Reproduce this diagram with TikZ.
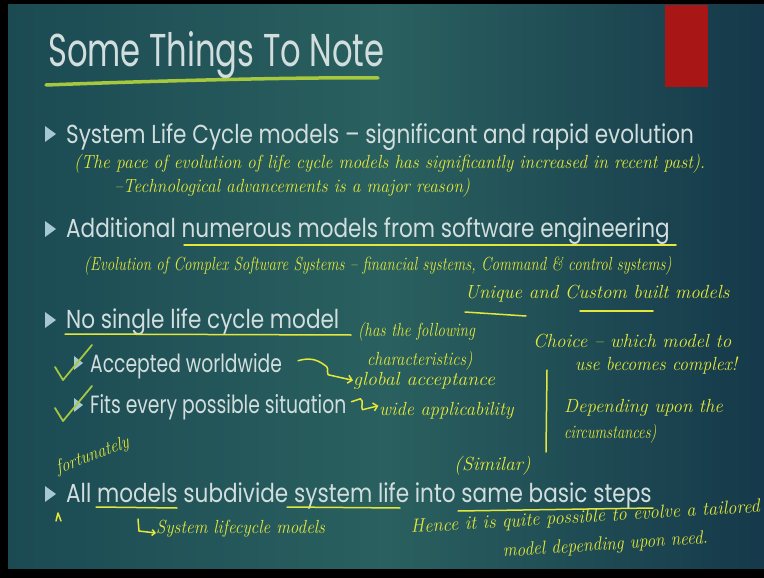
\documentclass[tikz,border=0pt]{standalone}
\usepackage{fontspec}
\newfontfamily\slidefont{Poppins}
\usetikzlibrary{arrows.meta}
\definecolor{bgleft}{HTML}{1B4A53}
\definecolor{bgmid}{HTML}{2A605F}
\definecolor{bgright}{HTML}{15394A}
\definecolor{slidegray}{HTML}{D2DEDE}
\definecolor{bulletblue}{HTML}{A6C8D2}
\definecolor{inkyellow}{HTML}{E4E83A}
\definecolor{inkgreen}{HTML}{A6C83E}
\definecolor{tabred}{HTML}{A81616}
\begin{document}
\begin{tikzpicture}[x=1pt,y=-1pt,
  titletext/.style={font=\slidefont\fontsize{46}{50}\selectfont, text=slidegray, anchor=base west, inner sep=0pt, xscale=0.70, transform shape},
  slidetext/.style={font=\slidefont\fontsize{26}{30}\selectfont, text=slidegray, anchor=base west, inner sep=0pt, xscale=0.83, transform shape},
  subtext/.style={font=\slidefont\fontsize{25}{30}\selectfont, text=slidegray, anchor=base west, inner sep=0pt, xscale=0.75, transform shape},
  ink/.style={font=\itshape\fontsize{19}{22}\selectfont, text=inkyellow, anchor=base west, inner sep=0pt, transform shape},
  inkline/.style={draw=inkyellow, line width=1.5pt, line cap=round, line join=round},
  tick/.style={draw=inkgreen, line width=1.8pt, line cap=round, line join=round},
  bullet/.style={fill=bulletblue}
]
\useasboundingbox (0,0) rectangle (764,578);
% frame and background
\fill[black] (0,0) rectangle (764,578);
\shade[left color=bgleft, right color=bgright, middle color=bgmid, shading angle=90] (8,5) rectangle (764,568);
\fill[tabred] (665,5) rectangle (708,87);

% title
\node[titletext] (title) at (48,67) {Some Things To Note};
\draw[draw=inkgreen, line width=3.5pt, line cap=round] (46,85) .. controls (150,81) and (300,77) .. (378,78);

% bullet markers
\foreach \y in {134, 229, 320, 494} {
  \fill[bullet] (45,\y-8) -- (56,\y) -- (45,\y+8) -- cycle;
}
\fill[bullet] (74,356) -- (83,363) -- (74,370) -- cycle;
\fill[bullet] (74,398) -- (83,405) -- (74,412) -- cycle;

% first bullet
\node[slidetext] (l1) at (66,143) {System Life Cycle models \textendash\ significant and rapid evolution};
\node[ink, xscale=0.92] (n1a) at (74,168) {(The pace of evolution of life cycle models has significantly increased in recent past).};
\node[ink, xscale=0.91] (n1b) at (114,193) {--Technological advancements is a major reason)};

% second bullet
\node[slidetext] (l2) at (66,237) {Additional numerous models from software engineering};
\draw[inkline] (184,245) -- (676,245);
\node[ink, xscale=0.79] (n2a) at (84,270) {(Evolution of Complex Software Systems -- financial systems, Command \& control systems)};
\node[ink, xscale=1.0] (n2b) at (465,298) {Unique and Custom built models};
\draw[inkline] (465,312) -- (526,316);
\draw[inkline] (580,311) -- (653,311);

% third bullet
\node[slidetext] (l3) at (66,328) {No single life cycle model};
\draw[inkline] (65,334) -- (351,335);
\node[ink, xscale=0.81] (n3a) at (358,336) {(has the following};
\node[ink, xscale=0.85] (n3b) at (367,365) {characteristics)};
\node[ink, xscale=1.0] (n3c) at (533,347) {Choice -- which model to};
\node[ink, xscale=0.94] (n3d) at (575,370) {use becomes complex!};

\node[subtext] (s1) at (90,372) {Accepted worldwide};
\node[subtext] (s2) at (90,413) {Fits every possible situation};
\draw[tick] (55,367) -- (63,380) -- (92,345);
\draw[tick] (55,408) -- (63,421) -- (92,386);

\node[ink, xscale=1.04] (g1) at (353,385) {global acceptance};
\node[ink, xscale=0.97] (g2) at (379,415) {wide applicability};
\draw[inkline, -{Straight Barb[length=4pt]}] (s1.east) ++(16,-5) .. controls +(10,-3) and +(-8,-6) .. ++(26,4) .. controls +(6,4) and +(-2,-6) .. ++(4,10) -- (g1.west);
\draw[inkline, -{Straight Barb[length=4pt]}] (s2.east) ++(5,-5) -- ++(9,-3) .. controls +(4,3) and +(-2,-4) .. ++(2,11) -- ++(16,-4);

\draw[inkline] (547,370) -- (546,452);
\node[ink, xscale=0.99] (n3e) at (564,412) {Depending upon the};
\node[ink, xscale=0.77] (n3f) at (564,438) {circumstances)};

% fourth bullet
\node[ink, xscale=0.86, rotate=18] (n4a) at (58,474) {fortunately};
\node[ink, xscale=1.03] (n4b) at (454,470) {(Similar)};
\node[slidetext] (l4) at (66,502) {All models subdivide system life into same basic steps};
\draw[inkline] (96,507) -- (177,508);
\draw[inkline] (287,507) -- (400,508);
\draw[inkline] (458,511) -- (653,508);
\draw[inkline] (56,521) -- (58,513) -- (61,521);
\coordinate (hooktop) at (138,519);
\node[ink, xscale=0.9] (n4c) at (156,533) {System lifecycle models};
\draw[inkline, -{Straight Barb[length=3pt]}] (hooktop) -- ++(1,12) -- (n4c.base west);
\node[ink, xscale=0.97, rotate=3.3] (n4d) at (411,533) {Hence it is quite possible to evolve a tailored};
\node[ink, xscale=0.91, rotate=3.5] (n4e) at (503,557) {model depending upon need.};
\end{tikzpicture}
\end{document}
